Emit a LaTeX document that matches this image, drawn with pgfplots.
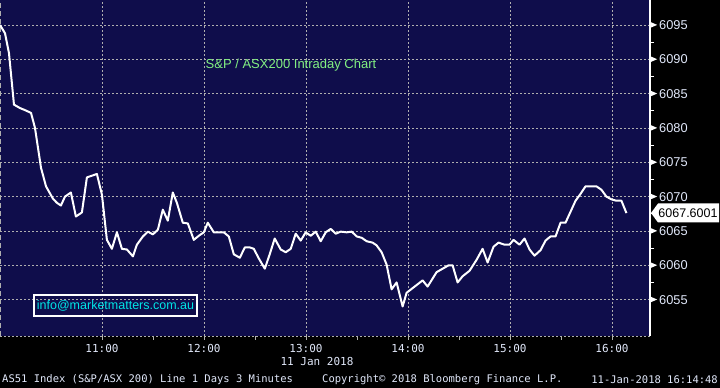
\documentclass[border=0pt]{standalone}
\usepackage{pgfplots}
\pgfplotsset{compat=1.18}
\usepackage{fontspec}
\setmainfont{Liberation Sans}
\newfontfamily\mono{DejaVu Sans Mono}
\definecolor{bbnavy}{RGB}{15,13,75}
\definecolor{bbgrid}{RGB}{175,175,175}
\definecolor{bbtext}{RGB}{225,232,250}
\definecolor{bbgreen}{RGB}{130,240,130}
\definecolor{bbcyan}{RGB}{0,230,230}
\begin{document}
\begin{tikzpicture}
\fill[black] (0,0) rectangle (720pt,388pt);
\begin{axis}[
  at={(0pt,52pt)}, anchor=south west, scale only axis,
  width=650pt, height=336pt,
  xmin=10, xmax=16.372, ymin=6049.7, ymax=6098.64,
  axis background/.style={fill=bbnavy},
  axis x line*=bottom, axis y line*=right,
  x axis line style={draw=bbgrid, dash pattern=on 2pt off 2pt, line width=0.9pt, -},
  y axis line style={draw=white, line width=1.3pt, -},
  xtick={11,12,13,14,15,16},
  xticklabels={11:00,12:00,13:00,14:00,15:00,16:00},
  minor x tick num=1,
  ytick={6055,6060,6065,6070,6075,6080,6085,6090,6095},
  minor y tick num=1,
  tick align=outside,
  major tick length=4pt, minor tick length=4pt,
  x tick style={draw=bbgrid, line width=0.9pt},
  y tick style={draw=white, line width=0.9pt},
  grid=major,
  major grid style={draw=bbgrid, line width=0.9pt, dash pattern=on 2pt off 2pt},
  /pgf/number format/assume math mode=true,
  /pgf/number format/set thousands separator={},
  xticklabel style={font=\mono\fontsize{11}{12}\selectfont, text=bbtext, yshift=-1pt},
  yticklabel={\tikz[baseline={(0,-4.5pt)}]\fill[white] (0,-3pt) -- (7pt,0) -- (0,3pt) -- cycle;\hspace{2pt}\pgfmathprintnumber{\tick}},
  yticklabel style={font=\fontsize{12.8}{14}\selectfont, text=bbtext, anchor=west, xshift=-4pt, inner sep=0pt},
  clip=true,
]
\draw[bbgrid, line width=1.3pt, dash pattern=on 5pt off 3pt] (axis cs:10,6049.7) -- (axis cs:10,6098.64);
\addplot[white, line width=2pt, line join=round] table {
10.000 6095.0
10.049 6093.8
10.088 6090.9
10.137 6083.4
10.196 6082.9
10.245 6082.6
10.304 6082.2
10.343 6080.0
10.402 6074.2
10.451 6071.5
10.519 6069.7
10.558 6069.1
10.597 6068.7
10.637 6070.0
10.695 6070.6
10.744 6067.1
10.803 6067.7
10.852 6072.8
10.950 6073.3
10.999 6070.3
11.048 6063.7
11.097 6062.4
11.146 6064.8
11.195 6062.4
11.244 6062.3
11.303 6061.3
11.342 6063.0
11.401 6064.2
11.450 6064.9
11.499 6064.5
11.548 6065.2
11.596 6068.1
11.645 6066.5
11.694 6070.6
11.734 6069.1
11.792 6066.2
11.841 6066.1
11.900 6063.7
11.949 6064.3
11.998 6064.8
12.037 6066.2
12.096 6064.8
12.155 6064.8
12.194 6064.8
12.243 6064.2
12.292 6061.6
12.351 6061.1
12.400 6062.6
12.449 6062.6
12.488 6062.4
12.537 6061.0
12.596 6059.5
12.644 6061.6
12.693 6063.9
12.752 6062.3
12.801 6061.9
12.850 6062.4
12.899 6064.6
12.948 6063.6
12.997 6064.8
13.046 6064.3
13.095 6064.9
13.144 6063.5
13.193 6064.8
13.242 6065.3
13.291 6064.6
13.340 6064.9
13.399 6064.8
13.448 6064.9
13.497 6064.2
13.546 6064.0
13.595 6063.5
13.653 6063.3
13.692 6062.9
13.741 6061.9
13.790 6060.1
13.839 6056.5
13.888 6057.5
13.947 6054.0
13.986 6056.0
14.065 6056.9
14.143 6057.8
14.192 6056.9
14.280 6059.0
14.339 6059.5
14.398 6060.0
14.437 6060.0
14.486 6057.5
14.535 6058.4
14.603 6059.2
14.672 6060.8
14.731 6062.4
14.780 6060.4
14.838 6062.7
14.887 6063.3
14.946 6063.0
14.995 6063.0
15.034 6063.7
15.093 6063.0
15.142 6063.9
15.191 6062.3
15.240 6061.4
15.299 6062.2
15.348 6063.6
15.397 6064.2
15.446 6064.2
15.495 6066.2
15.544 6066.2
15.593 6067.8
15.642 6069.4
15.691 6070.4
15.740 6071.5
15.798 6071.5
15.847 6071.5
15.896 6071.0
15.945 6070.0
15.994 6069.6
16.043 6069.4
16.092 6069.4
16.141 6067.6
};
\end{axis}
% title
\node[text=bbgreen, font=\fontsize{13}{15}\selectfont] at (291pt,323pt) {S\&P / ASX200 Intraday Chart};
% info box
\node[draw=white, line width=1.2pt, text=bbcyan, font=\fontsize{12.5}{14}\selectfont,
      minimum width=163pt, minimum height=21pt, inner sep=0pt] at (115.5pt,82.5pt) {info@marketmatters.com.au};
% last value label
\fill[white] (651pt,175pt) -- (658pt,184.5pt) -- (719pt,184.5pt) -- (719pt,165.5pt) -- (658pt,165.5pt) -- cycle;
\node[text=black, font=\fontsize{12.5}{14}\selectfont, anchor=center] at (688pt,175pt) {6067.6001};
% date
\node[text=bbtext, font=\mono\fontsize{11}{12}\selectfont] at (317pt,27pt) {11 Jan 2018};
% footer
\node[text=bbtext, font=\mono\fontsize{10.5}{12}\selectfont, anchor=west, inner sep=0pt] at (2pt,8pt) {AS51 Index (S\&P/ASX 200) Line 1 Days 3 Minutes};
\node[text=bbtext, font=\mono\fontsize{10.5}{12}\selectfont, anchor=west, inner sep=0pt] at (322pt,8pt) {Copyright© 2018 Bloomberg Finance L.P.};
\node[text=bbtext, font=\mono\fontsize{10.5}{12}\selectfont, anchor=east, inner sep=0pt] at (718pt,8pt) {11-Jan-2018 16:14:48};
\pgfresetboundingbox
\path (0,0) rectangle (720pt,388pt);
\end{tikzpicture}
\end{document}
